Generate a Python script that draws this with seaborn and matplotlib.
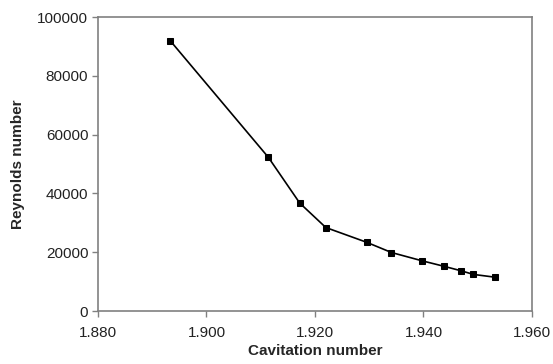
import matplotlib
matplotlib.use("Agg")
import matplotlib.pyplot as plt
import seaborn as sns
import pandas as pd

cavitation = [1.8933, 1.9114, 1.9172, 1.9220, 1.9295, 1.9341, 1.9398, 1.9437, 1.9470, 1.9492, 1.9532]
reynolds = [92000, 52300, 36700, 28400, 23400, 19900, 17050, 15250, 13650, 12450, 11500]

x_ticks = [1.880, 1.900, 1.920, 1.940, 1.960]
y_ticks = [0, 20000, 40000, 60000, 80000, 100000]

df = pd.DataFrame({"Cavitation number": cavitation, "Reynolds number": reynolds})

sns.set_style("white")
plt.rcParams['font.family'] = ['Liberation Sans', 'DejaVu Sans']

fig = plt.figure(figsize=(5.53, 3.64), dpi=100)
ax = fig.add_axes([0.1772, 0.1456, 0.962 - 0.1772, 0.953 - 0.1456])

sns.lineplot(data=df, x="Cavitation number", y="Reynolds number", ax=ax,
             color="black", linewidth=1.2, marker="s", markersize=3.8,
             markeredgecolor="black", markerfacecolor="black")

ax.set_xlim(1.880, 1.960)
ax.set_ylim(0, 100000)
ax.set_xticks(x_ticks)
ax.set_xticklabels([f"{t:.3f}" for t in x_ticks])
ax.set_yticks(y_ticks)
ax.set_yticklabels([str(t) for t in y_ticks])

for s in ax.spines.values():
    s.set_color("#808080")
    s.set_linewidth(1.2)

ax.tick_params(axis="both", direction="out", length=4, width=1, color="#808080",
               labelsize=11, labelcolor="#222222", bottom=True, left=True)
ax.tick_params(axis="x", pad=7)
ax.tick_params(axis="y", pad=3)

ax.set_xlabel("Cavitation number", fontsize=11, fontweight="bold", labelpad=3)
ax.set_ylabel("Reynolds number", fontsize=11, fontweight="bold", labelpad=9)

fig.savefig("out.png", dpi=100, facecolor="white")
